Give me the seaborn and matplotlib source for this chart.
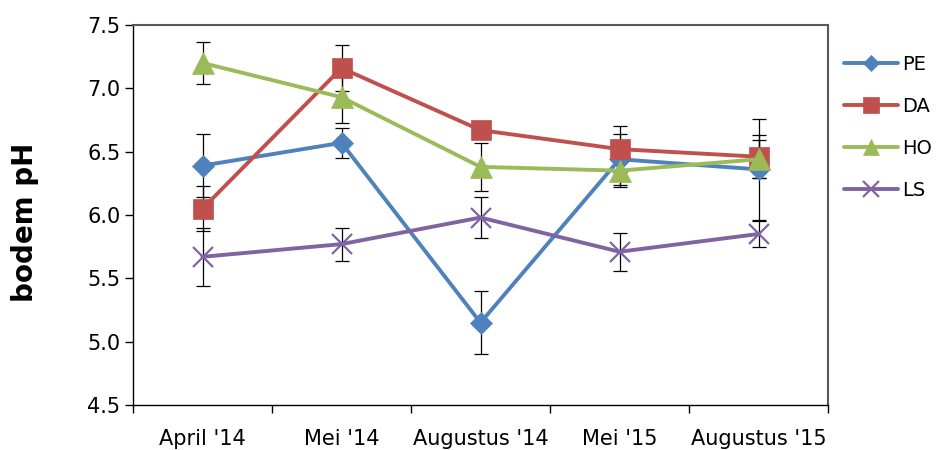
import matplotlib
matplotlib.use('Agg')
import matplotlib.pyplot as plt
import seaborn as sns
import pandas as pd
import numpy as np

# sampling moments
dates = ["April '14", "Mei '14", "Augustus '14", "Mei '15", "Augustus '15"]

# soil pH per site, with error bars
pe = [6.39, 6.57, 5.15, 6.44, 6.36]
pe_err = [0.25, 0.12, 0.25, 0.20, 0.40]
da = [6.05, 7.16, 6.67, 6.52, 6.46]
da_err = [0.18, 0.18, 0.04, 0.18, 0.17]
ho = [7.20, 6.93, 6.38, 6.35, 6.44]
ho_err = [0.165, 0.20, 0.19, 0.13, 0.15]
ls = [5.67, 5.77, 5.98, 5.71, 5.85]
ls_err = [0.23, 0.13, 0.16, 0.15, 0.10]

sites = ['PE', 'DA', 'HO', 'LS']
site_vals = {'PE': pe, 'DA': da, 'HO': ho, 'LS': ls}
site_errs = {'PE': pe_err, 'DA': da_err, 'HO': ho_err, 'LS': ls_err}
colors = {'PE': '#4F81BD', 'DA': '#C0504D', 'HO': '#9BBB59', 'LS': '#8064A2'}
markers = {'PE': 'D', 'DA': 's', 'HO': '^', 'LS': 'x'}
msizes = {'PE': 11, 'DA': 15, 'HO': 16, 'LS': 15}

# long table for seaborn
rows = []
for s in sites:
    for d, v in zip(dates, site_vals[s]):
        rows.append({'site': s, 'datum': d, 'ph': v})
df = pd.DataFrame(rows)

sns.set_style('ticks')
plt.rcParams['font.family'] = ['DejaVu Sans']
plt.rcParams['text.color'] = 'black'
plt.rcParams['xtick.color'] = 'black'
plt.rcParams['ytick.color'] = 'black'
plt.rcParams['axes.labelcolor'] = 'black'

fig = plt.figure(figsize=(9.39, 4.5), dpi=100)
ax = fig.add_axes([133/939, 1-405/450, (828-133)/939, (405-25)/450])

# error bars first so markers sit on top
for s in sites:
    ax.errorbar(dates, site_vals[s], yerr=site_errs[s], fmt='none', ecolor='black',
                elinewidth=0.9, capsize=4.7, capthick=0.9, zorder=1)

for s in sites:
    sub = df[df['site'] == s]
    sns.lineplot(data=sub, x='datum', y='ph', ax=ax, color=colors[s], marker=markers[s],
                 markersize=msizes[s], markeredgewidth=1.6 if s == 'LS' else 0.5,
                 markeredgecolor=colors[s], linewidth=2.8, label=s, sort=False, zorder=3)

ax.set_xlim(-0.5, 4.5)
ax.set_ylim(4.5, 7.5)
ax.set_yticks(np.arange(4.5, 7.51, 0.5))
ax.set_yticklabels(['%.1f' % t for t in np.arange(4.5, 7.51, 0.5)])
ax.set_xticks(np.arange(-0.5, 5, 1), minor=True)
ax.tick_params(axis='x', which='major', bottom=True, length=0, pad=17, labelsize=15)
ax.tick_params(axis='x', which='minor', bottom=True, length=5.5, width=1, direction='out', color='black')
ax.tick_params(axis='y', which='major', left=True, length=6, width=1, direction='out', color='black',
               pad=3, labelsize=15)
ax.set_xlabel('')
ax.set_ylabel('bodem pH', fontsize=20, fontweight='bold', va='center')
ax.yaxis.set_label_coords(-0.155, 0.48)

for side in ['left', 'bottom']:
    ax.spines[side].set_color('black')
    ax.spines[side].set_linewidth(1.0)
for side in ['top', 'right']:
    ax.spines[side].set_visible(True)
    ax.spines[side].set_color('#595959')
    ax.spines[side].set_linewidth(1.5)

leg = ax.legend(loc='upper left', bbox_to_anchor=(844/939, 0.878), bbox_transform=fig.transFigure,
                frameon=False, fontsize=14, handlelength=2.8, handletextpad=0.2,
                labelspacing=1.18, borderpad=0, borderaxespad=0)
for h in leg.legend_handles:
    h.set_markersize(h.get_markersize() * 0.75)

fig.savefig('out.png', dpi=100)
